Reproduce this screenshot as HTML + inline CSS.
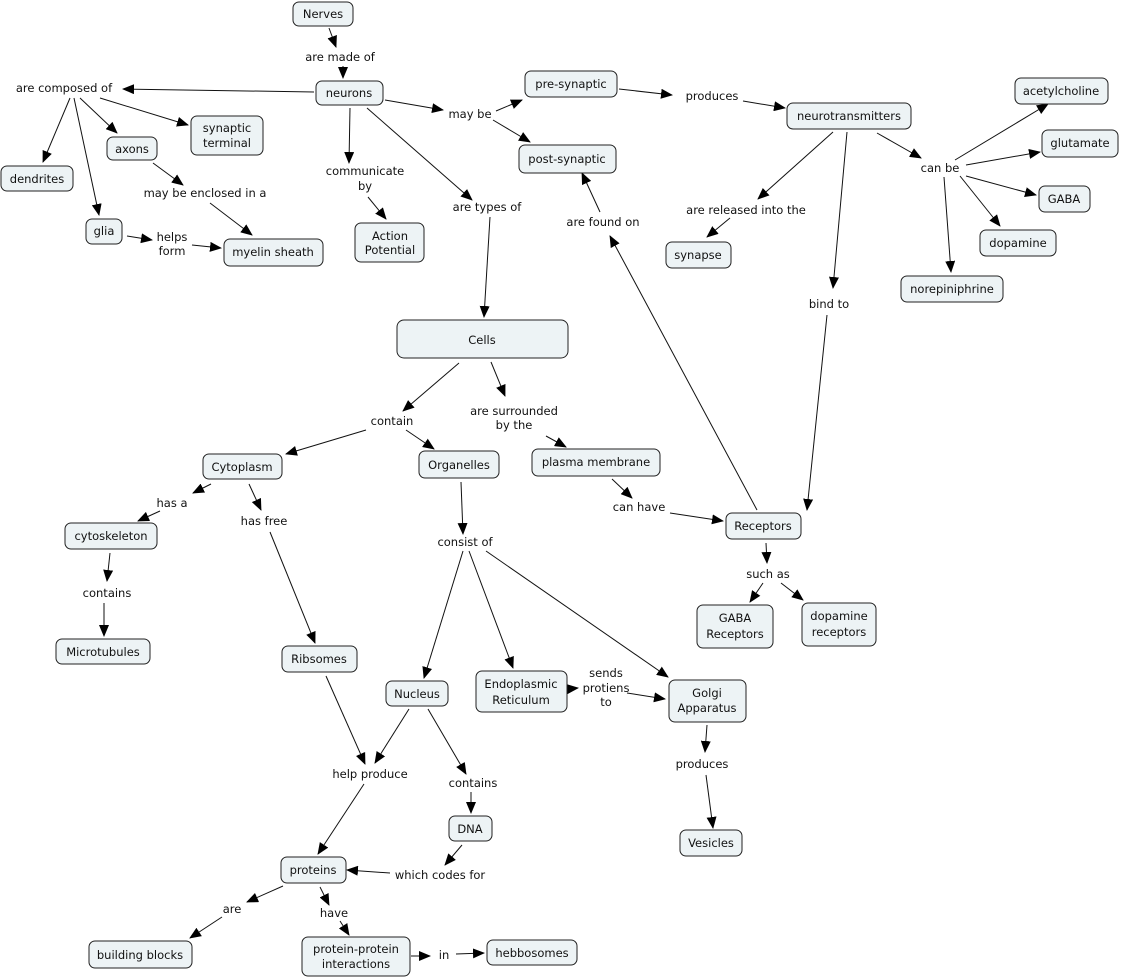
<!DOCTYPE html>
<html><head><meta charset="utf-8"><style>
html,body{margin:0;padding:0;background:#fff}
svg{display:block}
text{font-family:"DejaVu Sans","Liberation Sans",sans-serif;font-size:11.5px;fill:#111}
.n{fill:#edf3f5;stroke:#222;stroke-width:1}
.e{stroke:#111;stroke-width:1;fill:none}
</style></head><body>
<svg width="1122" height="979" viewBox="0 0 1122 979" xmlns="http://www.w3.org/2000/svg">
<defs><marker id="a" markerWidth="12" markerHeight="10" refX="11" refY="5" orient="auto" markerUnits="userSpaceOnUse"><path d="M0,0 L12,5 L0,10 z" fill="#000"/></marker></defs>
<g id="edges" class="e" marker-end="url(#a)">
<line x1="329" y1="28" x2="336" y2="47" marker-end="url(#a)"/>
<line x1="343" y1="66" x2="343" y2="78" marker-end="url(#a)"/>
<line x1="314" y1="92" x2="123" y2="89" marker-end="url(#a)"/>
<line x1="70" y1="98" x2="43" y2="162" marker-end="url(#a)"/>
<line x1="80" y1="98" x2="117" y2="133" marker-end="url(#a)"/>
<line x1="74" y1="98" x2="99" y2="215" marker-end="url(#a)"/>
<line x1="100" y1="98" x2="188" y2="125" marker-end="url(#a)"/>
<line x1="153" y1="163" x2="183" y2="185" marker-end="url(#a)"/>
<line x1="210" y1="203" x2="252" y2="235" marker-end="url(#a)"/>
<line x1="127" y1="236" x2="152" y2="240" marker-end="url(#a)"/>
<line x1="192" y1="245" x2="221" y2="248" marker-end="url(#a)"/>
<line x1="385" y1="100" x2="443" y2="110" marker-end="url(#a)"/>
<line x1="496" y1="111" x2="522" y2="100" marker-end="url(#a)"/>
<line x1="493" y1="120" x2="530" y2="142" marker-end="url(#a)"/>
<line x1="350" y1="108" x2="349" y2="163" marker-end="url(#a)"/>
<line x1="368" y1="197" x2="386" y2="219" marker-end="url(#a)"/>
<line x1="367" y1="108" x2="472" y2="200" marker-end="url(#a)"/>
<line x1="490" y1="217" x2="484" y2="317" marker-end="url(#a)"/>
<line x1="619" y1="89" x2="672" y2="95" marker-end="url(#a)"/>
<line x1="743" y1="101" x2="785" y2="108" marker-end="url(#a)"/>
<line x1="877" y1="133" x2="921" y2="158" marker-end="url(#a)"/>
<line x1="955" y1="160" x2="1048" y2="104" marker-end="url(#a)"/>
<line x1="966" y1="165" x2="1040" y2="152" marker-end="url(#a)"/>
<line x1="966" y1="176" x2="1036" y2="195" marker-end="url(#a)"/>
<line x1="960" y1="176" x2="1000" y2="226" marker-end="url(#a)"/>
<line x1="944" y1="177" x2="951" y2="272" marker-end="url(#a)"/>
<line x1="833" y1="132" x2="758" y2="199" marker-end="url(#a)"/>
<line x1="730" y1="218" x2="707" y2="237" marker-end="url(#a)"/>
<line x1="847" y1="132" x2="833" y2="288" marker-end="url(#a)"/>
<line x1="827" y1="315" x2="807" y2="510" marker-end="url(#a)"/>
<line x1="757" y1="510" x2="610" y2="236" marker-end="url(#a)"/>
<line x1="600" y1="212" x2="582" y2="173" marker-end="url(#a)"/>
<line x1="459" y1="363" x2="403" y2="411" marker-end="url(#a)"/>
<line x1="491" y1="362" x2="505" y2="396" marker-end="url(#a)"/>
<line x1="366" y1="430" x2="286" y2="454" marker-end="url(#a)"/>
<line x1="406" y1="430" x2="434" y2="449" marker-end="url(#a)"/>
<line x1="546" y1="436" x2="566" y2="447" marker-end="url(#a)"/>
<line x1="612" y1="479" x2="632" y2="498" marker-end="url(#a)"/>
<line x1="670" y1="513" x2="723" y2="521" marker-end="url(#a)"/>
<line x1="766" y1="543" x2="767" y2="563" marker-end="url(#a)"/>
<line x1="763" y1="583" x2="750" y2="602" marker-end="url(#a)"/>
<line x1="781" y1="583" x2="803" y2="600" marker-end="url(#a)"/>
<line x1="211" y1="484" x2="193" y2="493" marker-end="url(#a)"/>
<line x1="160" y1="511" x2="138" y2="521" marker-end="url(#a)"/>
<line x1="249" y1="484" x2="261" y2="510" marker-end="url(#a)"/>
<line x1="270" y1="532" x2="315" y2="643" marker-end="url(#a)"/>
<line x1="110" y1="553" x2="107" y2="581" marker-end="url(#a)"/>
<line x1="104" y1="603" x2="104" y2="636" marker-end="url(#a)"/>
<line x1="461" y1="482" x2="463" y2="534" marker-end="url(#a)"/>
<line x1="463" y1="551" x2="424" y2="678" marker-end="url(#a)"/>
<line x1="469" y1="551" x2="513" y2="668" marker-end="url(#a)"/>
<line x1="486" y1="551" x2="668" y2="677" marker-end="url(#a)"/>
<line x1="568" y1="689" x2="578" y2="688" marker-end="url(#a)"/>
<line x1="627" y1="693" x2="665" y2="699" marker-end="url(#a)"/>
<line x1="707" y1="725" x2="705" y2="752" marker-end="url(#a)"/>
<line x1="706" y1="775" x2="713" y2="828" marker-end="url(#a)"/>
<line x1="326" y1="676" x2="365" y2="764" marker-end="url(#a)"/>
<line x1="409" y1="709" x2="375" y2="763" marker-end="url(#a)"/>
<line x1="428" y1="709" x2="466" y2="774" marker-end="url(#a)"/>
<line x1="471" y1="792" x2="471" y2="813" marker-end="url(#a)"/>
<line x1="462" y1="845" x2="445" y2="865" marker-end="url(#a)"/>
<line x1="390" y1="873" x2="347" y2="870" marker-end="url(#a)"/>
<line x1="364" y1="784" x2="318" y2="854" marker-end="url(#a)"/>
<line x1="283" y1="886" x2="247" y2="902" marker-end="url(#a)"/>
<line x1="222" y1="917" x2="190" y2="938" marker-end="url(#a)"/>
<line x1="320" y1="887" x2="329" y2="905" marker-end="url(#a)"/>
<line x1="340" y1="921" x2="349" y2="935" marker-end="url(#a)"/>
<line x1="411" y1="956" x2="430" y2="956" marker-end="url(#a)"/>
<line x1="456" y1="954" x2="484" y2="953" marker-end="url(#a)"/>
</g>
<g id="nodes">
<rect class="n" x="293" y="2" width="60" height="24" rx="6"/>
<rect class="n" x="316" y="81" width="67" height="24" rx="6"/>
<rect class="n" x="525" y="71" width="92" height="26" rx="6"/>
<rect class="n" x="519" y="145" width="97" height="28" rx="6"/>
<rect class="n" x="787" y="103" width="124" height="26" rx="6"/>
<rect class="n" x="1015" y="78" width="93" height="26" rx="6"/>
<rect class="n" x="1042" y="130" width="76" height="27" rx="6"/>
<rect class="n" x="1039" y="186" width="51" height="26" rx="6"/>
<rect class="n" x="980" y="230" width="76" height="26" rx="6"/>
<rect class="n" x="901" y="276" width="102" height="26" rx="6"/>
<rect class="n" x="666" y="242" width="65" height="26" rx="6"/>
<rect class="n" x="191" y="116" width="72" height="39" rx="6"/>
<rect class="n" x="107" y="137" width="50" height="23" rx="6"/>
<rect class="n" x="1" y="166" width="72" height="25" rx="6"/>
<rect class="n" x="86" y="219" width="36" height="25" rx="6"/>
<rect class="n" x="224" y="239" width="99" height="27" rx="6"/>
<rect class="n" x="355" y="223" width="69" height="39" rx="6"/>
<rect class="n" x="397" y="320" width="171" height="38" rx="7"/>
<rect class="n" x="203" y="454" width="79" height="25" rx="6"/>
<rect class="n" x="419" y="451" width="80" height="27" rx="6"/>
<rect class="n" x="532" y="449" width="128" height="27" rx="6"/>
<rect class="n" x="726" y="513" width="75" height="26" rx="6"/>
<rect class="n" x="697" y="605" width="76" height="43" rx="6"/>
<rect class="n" x="802" y="603" width="74" height="43" rx="6"/>
<rect class="n" x="65" y="523" width="92" height="26" rx="6"/>
<rect class="n" x="56" y="639" width="94" height="25" rx="6"/>
<rect class="n" x="282" y="646" width="75" height="26" rx="6"/>
<rect class="n" x="386" y="681" width="62" height="25" rx="6"/>
<rect class="n" x="476" y="671" width="91" height="41" rx="6"/>
<rect class="n" x="669" y="680" width="77" height="42" rx="6"/>
<rect class="n" x="449" y="816" width="43" height="25" rx="6"/>
<rect class="n" x="680" y="830" width="62" height="26" rx="6"/>
<rect class="n" x="281" y="857" width="65" height="26" rx="6"/>
<rect class="n" x="89" y="941" width="103" height="27" rx="6"/>
<rect class="n" x="302" y="937" width="108" height="39" rx="6"/>
<rect class="n" x="487" y="940" width="90" height="25" rx="6"/>
</g>
<g text-anchor="middle">
<text x="323" y="18">Nerves</text>
<text x="349" y="97">neurons</text>
<text x="571" y="88">pre-synaptic</text>
<text x="567" y="163">post-synaptic</text>
<text x="849" y="120">neurotransmitters</text>
<text x="1061" y="95">acetylcholine</text>
<text x="1080" y="147">glutamate</text>
<text x="1064" y="203">GABA</text>
<text x="1018" y="247">dopamine</text>
<text x="952" y="293">norepiniphrine</text>
<text x="698" y="259">synapse</text>
<text x="227" y="132">synaptic</text><text x="227" y="147">terminal</text>
<text x="132" y="153">axons</text>
<text x="37" y="183">dendrites</text>
<text x="104" y="235">glia</text>
<text x="273" y="256">myelin sheath</text>
<text x="390" y="240">Action</text><text x="390" y="254">Potential</text>
<text x="482" y="344">Cells</text>
<text x="242" y="471">Cytoplasm</text>
<text x="459" y="469">Organelles</text>
<text x="596" y="466">plasma membrane</text>
<text x="763" y="530">Receptors</text>
<text x="735" y="622">GABA</text><text x="735" y="638">Receptors</text>
<text x="839" y="620">dopamine</text><text x="839" y="636">receptors</text>
<text x="111" y="540">cytoskeleton</text>
<text x="103" y="656">Microtubules</text>
<text x="319" y="663">Ribsomes</text>
<text x="417" y="698">Nucleus</text>
<text x="521" y="688">Endoplasmic</text><text x="521" y="704">Reticulum</text>
<text x="707" y="697">Golgi</text><text x="707" y="712">Apparatus</text>
<text x="470" y="833">DNA</text>
<text x="711" y="847">Vesicles</text>
<text x="313" y="874">proteins</text>
<text x="140" y="959">building blocks</text>
<text x="356" y="953">protein-protein</text><text x="356" y="968">interactions</text>
<text x="532" y="957">hebbosomes</text>
<!-- labels -->
<text x="340" y="61">are made of</text>
<text x="64" y="92">are composed of</text>
<text x="470" y="118">may be</text>
<text x="712" y="100">produces</text>
<text x="940" y="172">can be</text>
<text x="746" y="214">are released into the</text>
<text x="829" y="308">bind to</text>
<text x="365" y="175">communicate</text><text x="365" y="190">by</text>
<text x="487" y="211">are types of</text>
<text x="603" y="226">are found on</text>
<text x="205" y="197">may be enclosed in a</text>
<text x="172" y="241">helps</text><text x="172" y="255">form</text>
<text x="392" y="425">contain</text>
<text x="514" y="415">are surrounded</text><text x="514" y="429">by the</text>
<text x="172" y="507">has a</text>
<text x="264" y="525">has free</text>
<text x="639" y="511">can have</text>
<text x="768" y="578">such as</text>
<text x="465" y="546">consist of</text>
<text x="107" y="597">contains</text>
<text x="606" y="677">sends</text><text x="606" y="692">protiens</text><text x="606" y="706">to</text>
<text x="370" y="778">help produce</text>
<text x="473" y="787">contains</text>
<text x="702" y="768">produces</text>
<text x="440" y="879">which codes for</text>
<text x="232" y="913">are</text>
<text x="334" y="917">have</text>
<text x="444" y="959">in</text>
</g>
</svg>
</body></html>
